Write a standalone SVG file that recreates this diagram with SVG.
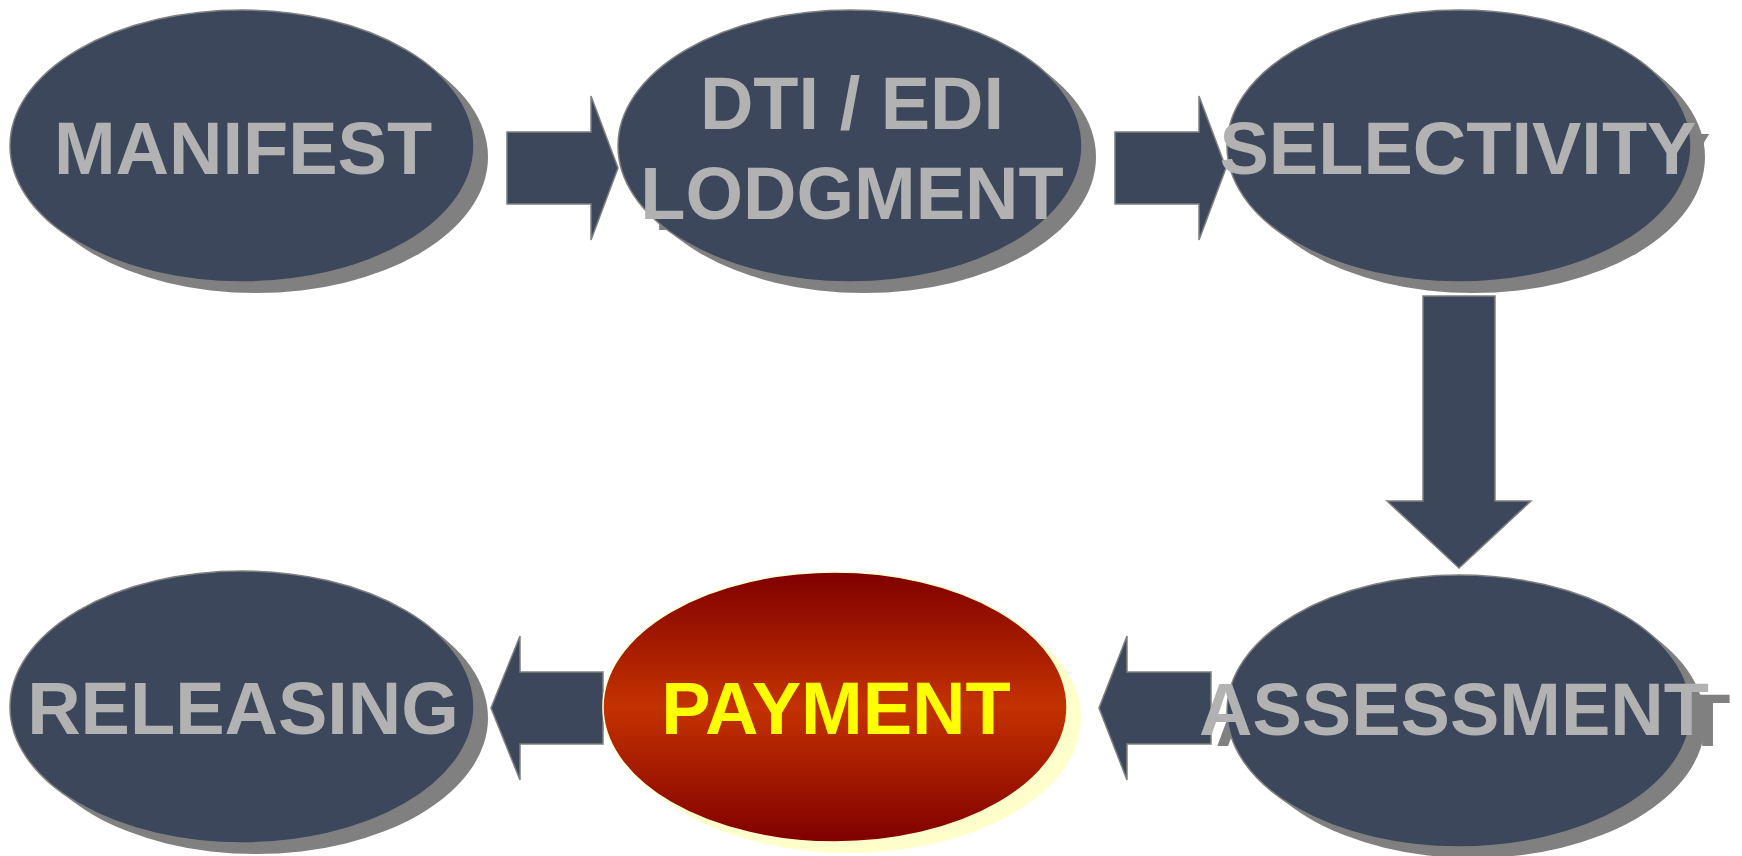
<svg xmlns="http://www.w3.org/2000/svg" width="1742" height="856" viewBox="0 0 1742 856">
  <defs>
    <linearGradient id="payFill" x1="0" y1="0" x2="0" y2="1">
      <stop offset="0" stop-color="#800000"/>
      <stop offset="0.5" stop-color="#c43200"/>
      <stop offset="1" stop-color="#800000"/>
    </linearGradient>
  </defs>
  <style>
    .arrow { fill: #3d475b; stroke: #7f7f7f; stroke-width: 1.5; stroke-linejoin: miter; }
    .oval { fill: #3d475b; stroke: #7f7f7f; stroke-width: 1.5; }
    .shade { fill: #808080; }
    .glow { fill: #ffffcc; }
    .label { font-family: "Liberation Sans", Arial, sans-serif; font-weight: bold; font-size: 74px; text-anchor: middle; }
    .grey { fill: #b2b2b2; }
    .shade-text { fill: #808080; }
    .gold { fill: #ffff00; }
  </style>

  <rect width="1742" height="856" fill="#ffffff"/>

  <!-- flow arrows -->
  <g id="connectors">
    <polygon class="arrow" points="507,132 591,132 591,96 618,168 591,240 591,204 507,204"/>
    <polygon class="arrow" points="1115,132 1199,132 1199,96 1226,168 1199,240 1199,204 1115,204"/>
    <polygon class="arrow" points="1423,296 1495,296 1495,501 1531,501 1459,568 1387,501 1423,501"/>
    <polygon class="arrow" points="1211,672 1127,672 1127,636 1099,708 1127,780 1127,744 1211,744"/>
    <polygon class="arrow" points="603,672 520,672 520,636 491,708 520,780 520,744 603,744"/>
  </g>

  <g id="node-manifest">
    <g transform="translate(14,11)">
      <ellipse class="shade" cx="242" cy="146" rx="232" ry="136"/>
    </g>
    <ellipse class="oval" cx="242" cy="146" rx="232" ry="136"/>
    <text class="label grey" x="243" y="174">MANIFEST</text>
  </g>

  <g id="node-lodgment">
    <g transform="translate(14,11)">
      <ellipse class="shade" cx="850" cy="146" rx="232" ry="136"/>
      <text class="label shade-text" x="852" y="129">DTI / EDI</text>
      <text class="label shade-text" x="852" y="219">LODGMENT</text>
    </g>
    <ellipse class="oval" cx="850" cy="146" rx="232" ry="136"/>
    <text class="label grey" x="852" y="129">DTI / EDI</text>
    <text class="label grey" x="852" y="219">LODGMENT</text>
  </g>

  <g id="node-selectivity">
    <g transform="translate(14,11)">
      <ellipse class="shade" cx="1459" cy="146" rx="232" ry="136"/>
      <text class="label shade-text" x="1458" y="174">SELECTIVITY</text>
    </g>
    <ellipse class="oval" cx="1459" cy="146" rx="232" ry="136"/>
    <text class="label grey" x="1458" y="174">SELECTIVITY</text>
  </g>

  <g id="node-assessment">
    <g transform="translate(14,11)">
      <ellipse class="shade" cx="1459" cy="711" rx="232" ry="136"/>
      <text class="label shade-text" x="1459" y="735" textLength="515" lengthAdjust="spacingAndGlyphs">ASSESSMENT</text>
    </g>
    <ellipse class="oval" cx="1459" cy="711" rx="232" ry="136"/>
    <text class="label grey" x="1454" y="735">ASSESSMENT</text>
  </g>

  <g id="node-payment">
    <ellipse class="glow" cx="849" cy="718" rx="232" ry="135"/>
    <ellipse cx="835" cy="707" rx="232" ry="135" fill="url(#payFill)" stroke="#ffffcc" stroke-width="1.5"/>
    <text class="label gold" x="836" y="734">PAYMENT</text>
  </g>

  <g id="node-releasing">
    <g transform="translate(14,11)">
      <ellipse class="shade" cx="242" cy="707" rx="232" ry="136"/>
    </g>
    <ellipse class="oval" cx="242" cy="707" rx="232" ry="136"/>
    <text class="label grey" x="243" y="734">RELEASING</text>
  </g>
</svg>
